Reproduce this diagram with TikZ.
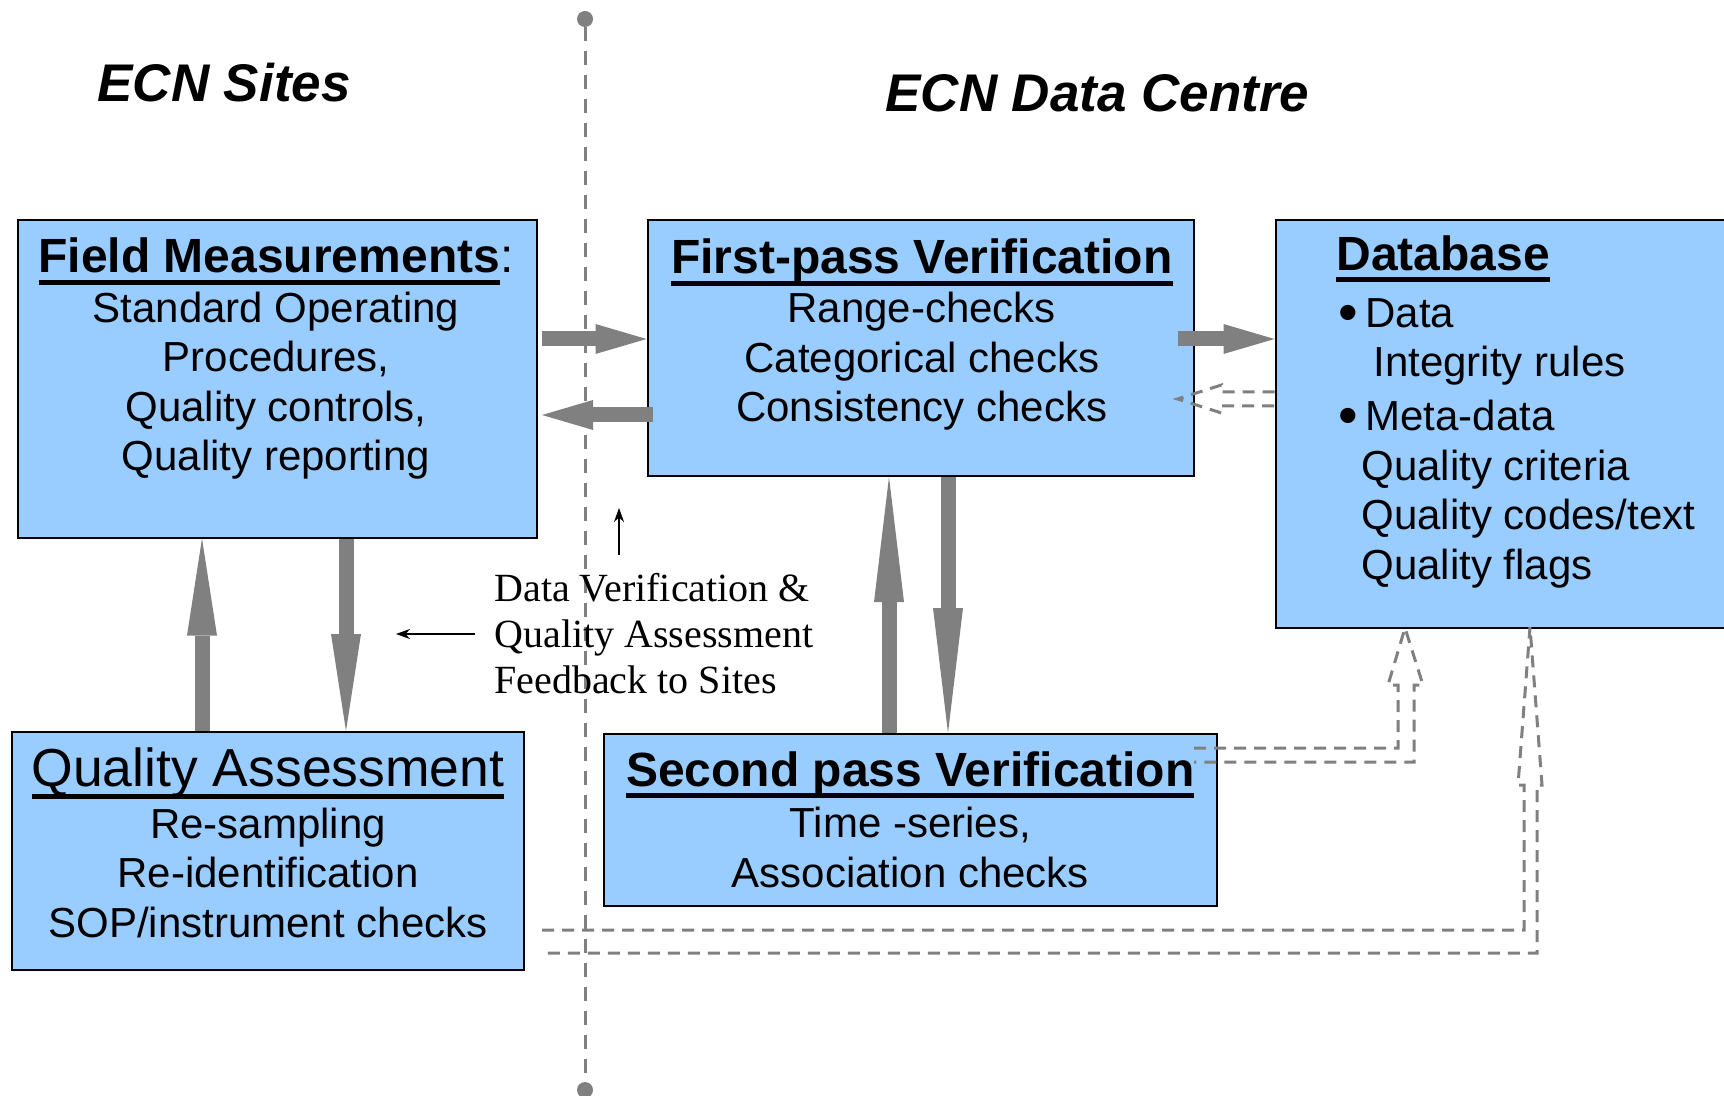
\documentclass[tikz,border=0pt]{standalone}
\usepackage{fontspec}
\setmainfont{Liberation Sans}
\newfontfamily\serifface{Liberation Serif}
\usetikzlibrary{arrows.meta,calc}

\definecolor{boxblue}{RGB}{153,204,255}
\definecolor{arrgray}{RGB}{128,128,128}
\newsavebox\headbox
\newcommand{\headul}[1]{\sbox\headbox{#1}\rlap{\usebox\headbox}\rule[-6.1pt]{\wd\headbox}{2.4pt}}
\newcommand{\dbitem}{\makebox[14.5pt][l]{\hspace*{1.2pt}\raisebox{-2.2pt}{\fontsize{28}{28}\selectfont•}}}

\begin{document}
\begin{tikzpicture}[x=0.5pt,y=-0.5pt,
  box/.style={draw=black,line width=1pt,fill=boxblue,rectangle,inner sep=0pt,anchor=north west},
  boxtext/.style={align=center,anchor=base,inner sep=0pt,font=\fontsize{21}{24.75}\selectfont},
  bigarrow/.style={draw=arrgray,line width=7.5pt,-{Triangle[length=#1,width=15pt,line width=0pt]}},
  hollow/.style={draw=arrgray,line width=1.5pt,dash pattern=on 6pt off 4pt},
  dot/.style={circle,fill=arrgray,inner sep=0pt,minimum size=8pt}]
\useasboundingbox (0,0) rectangle (1724,1096);
\clip (0,0) rectangle (1724,1096);

% sites / data centre divider
\node[dot] (top) at (585,19) {};
\node[dot] (bottom) at (585,1090) {};
\draw[arrgray,line width=1.5pt,dash pattern=on 7pt off 5pt] (top) -- (bottom);

\node[anchor=base west,inner sep=0pt,font=\fontsize{26.5}{30}\selectfont\bfseries\itshape] (sites) at (97,102) {ECN Sites};
\node[anchor=base west,inner sep=0pt,font=\fontsize{26.5}{30}\selectfont\bfseries\itshape] (centre) at (885,112) {ECN Data Centre};

% boxes
\node[box,minimum width=259.5pt,minimum height=158.75pt] (field) at (16.5,219) {};
\node[box,minimum width=273.25pt,minimum height=128pt] (first) at (646.5,219) {};
\node[box,minimum width=232.75pt,minimum height=204pt] (db) at (1274.5,219) {};
\node[box,minimum width=256pt,minimum height=119pt] (qa) at (11,731) {};
\node[box,minimum width=306.75pt,minimum height=86pt] (second) at (602.5,733) {};

% box texts, placed by the baseline of their last line
\node[boxtext] (fieldtxt) at ($(field.north)+(-1,252)$) {{\fontsize{24}{24.75}\selectfont\bfseries\headul{Field Measurements}\mdseries:}\\
  Standard Operating\\Procedures,\\Quality controls,\\Quality reporting};
\node[boxtext] (firsttxt) at ($(first.north)+(1,203)$) {{\fontsize{24}{24.75}\selectfont\bfseries\headul{First-pass Verification}}\\
  Range-checks\\Categorical checks\\Consistency checks};
\node[boxtext] (qatxt) at ($(qa.north)+(0,206)$) {{\fontsize{26.75}{24.75}\selectfont\headul{Quality Assessment}}\\[1pt]
  Re-sampling\\Re-identification\\SOP/instrument checks};
\node[boxtext] (secondtxt) at ($(second.north)+(0,154)$) {{\fontsize{24}{24.75}\selectfont\bfseries\headul{Second pass Verification}}\\[1pt]
  Time -series,\\Association checks};
\node[boxtext,align=left,anchor=base west] (dbtxt) at ($(db.north west)+(61.5,360)$) {{\fontsize{24}{24.75}\selectfont\bfseries\headul{Database}}\\[3.75pt]
  \dbitem Data\\
  \hspace*{18.5pt}Integrity rules\\[2.25pt]
  \dbitem Meta-data\\
  \hspace*{12.5pt}Quality criteria\\
  \hspace*{12.5pt}Quality codes/text\\
  \hspace*{12.5pt}Quality flags};

% main flows
\draw[bigarrow=25.5pt] ($(field.north east)+(4.5,120)$) -- ($(first.north west)+(0,120)$);
\draw[bigarrow=25.5pt] ($(first.north west)+(6,196)$) -- ($(field.north east)+(4.5,196)$);
\draw[bigarrow=25.5pt] ($(first.north east)+(-17,120)$) -- ($(db.north west)+(0,120)$);
\draw[bigarrow=48.5pt] ($(qa.north west)+(191,0)$) -- ($(field.south west)+(185.5,0)$);
\draw[bigarrow=48.5pt] ($(field.south west)+(329.5,0)$) -- ($(qa.north west)+(335,0)$);
\draw[bigarrow=62.5pt] ($(second.north west)+(286.5,0)$) -- ($(first.south west)+(242.5,0)$);
\draw[bigarrow=62.5pt] ($(first.south west)+(301.5,0)$) -- ($(second.north west)+(345.5,0)$);

% dashed returns to the database
\draw[hollow] ($(db.north west)+(0,173)$) -- ++(-53,0) -- ++(0,-7) -- ++(-44,14) -- ++(44,14) -- ++(0,-7) -- ++(53,0);
\draw[hollow] ($(second.north east)+(-24,15)$) -- ++(204,0) -- ++(0,-63) -- ++(-10,0) -- ++(17,-57)
  -- ++(18,57) -- ++(-9,0) -- ++(0,77) -- ++(-220,0);
\draw[hollow] ($(qa.north east)+(17,199)$) -- ++(982,0) -- ++(0,-145) -- ++(-6,0) -- ++(12,-158)
  -- ++(12,158) -- ++(-5,0) -- ++(0,168) -- ++(-995,0);

% feedback note
\node[anchor=base west,align=left,inner sep=0pt,font=\serifface\fontsize{20}{22.8}\selectfont] (feedback) at (494,693)
  {Data Verification \&\\Quality Assessment\\Feedback to Sites};
\coordinate (upfrom) at ($(feedback.base west)+(125,-138)$);
\coordinate (upto) at ($(feedback.base west)+(125,-185)$);
\coordinate (leftfrom) at ($(feedback.base west)+(-19,-59)$);
\coordinate (leftto) at ($(feedback.base west)+(-98,-59)$);
\draw[line width=0.9pt,-{Stealth[length=7pt,width=5pt]}] (upfrom) -- (upto);
\draw[line width=0.9pt,-{Stealth[length=7pt,width=5pt]}] (leftfrom) -- (leftto);
\end{tikzpicture}
\end{document}
